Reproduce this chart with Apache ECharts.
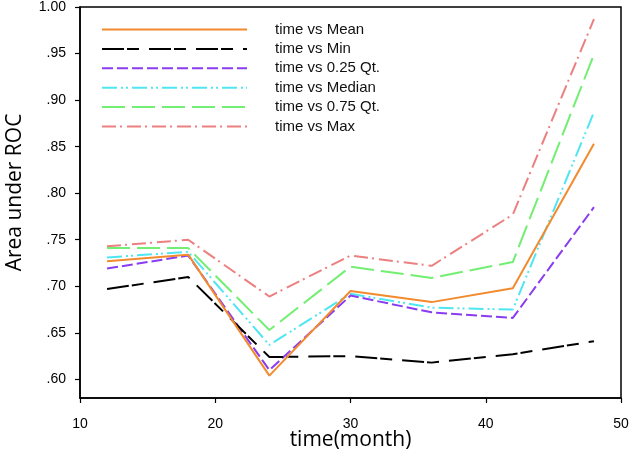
<!DOCTYPE html>
<html>
<head>
<meta charset="utf-8">
<script src="https://cdn.jsdelivr.net/npm/echarts@6/dist/echarts.min.js"></script>
<style>html,body{margin:0;padding:0;background:#fff}#c{width:630px;height:453px}</style>
</head>
<body>
<div id="c"></div>
<script>
const months = [12, 18, 24, 30, 36, 42, 48];
const meanVals   = [0.727, 0.734, 0.604, 0.695, 0.683, 0.698, 0.853];
const minVals    = [0.697, 0.710, 0.624, 0.625, 0.618, 0.627, 0.641];
const q25Vals    = [0.719, 0.733, 0.610, 0.690, 0.672, 0.666, 0.785];
const medianVals = [0.731, 0.737, 0.637, 0.692, 0.677, 0.675, 0.887];
const q75Vals    = [0.741, 0.741, 0.653, 0.721, 0.709, 0.726, 0.949];
const maxVals    = [0.743, 0.750, 0.689, 0.733, 0.722, 0.777, 0.987];
const yTicks = [0.60, 0.65, 0.70, 0.75, 0.80, 0.85, 0.90, 0.95, 1.00];
const seriesNames = ['time vs Mean', 'time vs Min', 'time vs 0.25 Qt.', 'time vs Median', 'time vs 0.75 Qt.', 'time vs Max'];

const styles = [
  {color: '#f28a2e', type: 'solid'},
  {color: '#000000', type: [22, 3, 12, 10]},
  {color: '#8a3cf0', type: [11, 4]},
  {color: '#4fe6f2', type: [15, 4, 2, 3, 2, 4]},
  {color: '#72ee72', type: [23, 7]},
  {color: '#ec8080', type: [14, 4, 2, 5]}
];
const allVals = [meanVals, minVals, q25Vals, medianVals, q75Vals, maxVals];

const chart = echarts.init(document.getElementById('c'), null, {renderer: 'canvas'});
chart.setOption({
  animation: false,
  backgroundColor: '#fff',
  grid: {left: 80, right: 9, top: 7, bottom: 55, outerBoundsMode: 'none', containLabel: false,
         show: true, borderColor: '#000', borderWidth: 1.5},
  legend: {
    left: 96, top: 17, orient: 'vertical',
    itemWidth: 145, itemHeight: 12, itemGap: 4.4,
    itemStyle: {opacity: 0},
    textStyle: {fontFamily: 'Liberation Sans, Arial', fontSize: 15, color: '#111', padding: [0, 0, 0, 23]},
    data: seriesNames
  },
  xAxis: {
    type: 'value', min: 10, max: 50, interval: 10,
    name: 'time(month)', nameLocation: 'middle', nameGap: 32, nameMoveOverlap: false,
    nameTextStyle: {fontFamily: 'Open Sans', fontSize: 21, color: '#000'},
    axisLine: {lineStyle: {color: '#000', width: 1.5}},
    axisTick: {length: 5, lineStyle: {color: '#000', width: 1.2}},
    axisLabel: {fontFamily: 'Liberation Sans, Arial', fontSize: 14, color: '#000', margin: 19},
    splitLine: {show: false}
  },
  yAxis: {
    type: 'value', min: 0.58, max: 1.0,
    name: 'Area under ROC', nameLocation: 'middle', nameGap: 54, nameRotate: 90,
    nameTextStyle: {fontFamily: 'Open Sans', fontSize: 21, color: '#000', padding: [0, 0, 0, 20]},
    axisLine: {show: true, lineStyle: {color: '#000', width: 1.5}},
    axisTick: {show: true, length: 5, customValues: yTicks, lineStyle: {color: '#000', width: 1.2}},
    axisLabel: {
      fontFamily: 'Liberation Sans, Arial', fontSize: 14, color: '#000', margin: 14,
      customValues: yTicks,
      formatter: v => v >= 0.999 ? v.toFixed(2) : v.toFixed(2).replace(/^0/, '')
    },
    splitLine: {show: false}
  },
  series: seriesNames.map((n, i) => ({
    name: n, type: 'line', symbol: 'none', showSymbol: false,
    data: months.map((m, j) => [m, allVals[i][j]]),
    lineStyle: {color: styles[i].color, type: styles[i].type, width: 2},
    itemStyle: {color: styles[i].color},
    z: 10 - i
  }))
});
</script>
</body>
</html>
